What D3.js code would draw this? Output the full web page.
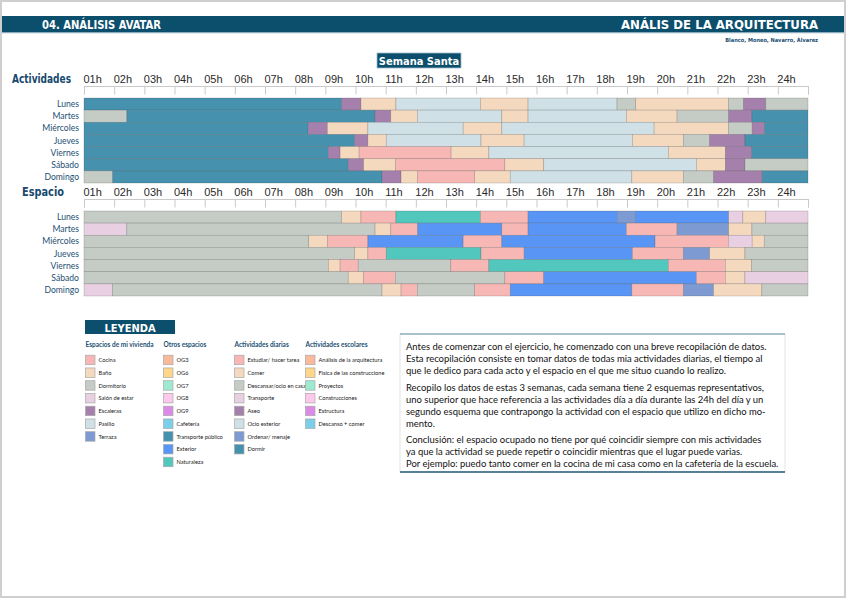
<!DOCTYPE html>
<html>
<head>
<meta charset="utf-8">
<script src="https://cdn.jsdelivr.net/npm/d3@7"></script>
<style>
    body { margin: 0; background: #fff; }
    svg { display: block; }
    .cond { font-family: "Liberation Sans Narrow", "DejaVu Sans Condensed", sans-serif; font-weight: bold; }
    .hour { font-family: "Liberation Sans", Arial, sans-serif; font-size: 11px; fill: #2a2a2a; }
    .day { font-family: Lato, "Open Sans", sans-serif; font-size: 8.6px; fill: #1d4f73; }
    .leg { font-family: Lato, "Open Sans", sans-serif; font-size: 5.7px; fill: #222; }
    .leg-head { font-family: Lato, "Open Sans", sans-serif; font-size: 6.5px; font-weight: bold; fill: #1d4f73; }
    .para { font-family: Lato, "Open Sans", sans-serif; fill: #111; }
</style>
</head>
<body>
<svg id="chart" width="848" height="599"></svg>
<script>
// data

const dias = ['Lunes', 'Martes', 'Miércoles', 'Jueves', 'Viernes', 'Sábado', 'Domingo'];
const horas = ['01h', '02h', '03h', '04h', '05h', '06h', '07h', '08h', '09h', '10h', '11h', '12h',
    '13h', '14h', '15h', '16h', '17h', '18h', '19h', '20h', '21h', '22h', '23h', '24h'];

// legend groups (names) and their colours
const espaciosVivienda = ['Cocina', 'Baño', 'Dormitorio', 'Salón de estar', 'Escaleras', 'Pasillo', 'Terraza'];
const otrosEspacios = ['OG3', 'OG6', 'OG7', 'OG8', 'OG9', 'Cafetería', 'Transporte público', 'Exterior', 'Naturaleza'];
const actividadesDiarias = ['Estudiar/ hacer tarea', 'Comer', 'Descansar/ocio en casa', 'Transporte', 'Aseo',
    'Ocio exterior', 'Ordenar/ menaje', 'Dormir'];
const actividadesEscolares = ['Análisis de la arquitectura', 'Física de las construccione', 'Proyectos',
    'Construcciones', 'Estructura', 'Descanso + comer'];

const coloresVivienda = ['#f7b7b5', '#f5d9bf', '#c5cbc5', '#e8d0e2', '#a580ad', '#cfe0e6', '#7d9bd2'];
const coloresOtros = ['#f9b99b', '#fdd68a', '#9eead0', '#fcc8ec', '#dc8ae8', '#7bcfe8', '#4591ae', '#5895f5', '#52c7bd'];
const coloresDiarias = ['#f7b7b5', '#f5d9bf', '#c5cbc5', '#e8d0e2', '#a580ad', '#cfe0e6', '#7d9bd2', '#4591ae'];
const coloresEscolares = ['#f9b99b', '#fdd68a', '#9eead0', '#fcc8ec', '#dc8ae8', '#7bcfe8'];

// each day: [category, hour at which the block ends]
const actividades = [
    [['Dormir', 8.54], ['Aseo', 9.18], ['Comer', 10.34], ['Ocio exterior', 13.14], ['Comer', 14.72],
        ['Ocio exterior', 17.67], ['Descansar/ocio en casa', 18.29], ['Comer', 21.36],
        ['Descansar/ocio en casa', 21.86], ['Aseo', 22.6], ['Descansar/ocio en casa', 24]],
    [['Descansar/ocio en casa', 1.42], ['Dormir', 9.65], ['Aseo', 10.17], ['Comer', 11.05], ['Ocio exterior', 13.85],
        ['Comer', 14.72], ['Ocio exterior', 17.98], ['Comer', 19.66], ['Descansar/ocio en casa', 21.37],
        ['Aseo', 22.14], ['Dormir', 24]],
    [['Dormir', 7.43], ['Aseo', 8.07], ['Comer', 9.41], ['Ocio exterior', 12.57], ['Comer', 13.85],
        ['Ocio exterior', 18.9], ['Comer', 21.37], ['Descansar/ocio en casa', 22.15], ['Aseo', 22.56], ['Dormir', 24]],
    [['Dormir', 8.97], ['Aseo', 9.41], ['Comer', 10.02], ['Ocio exterior', 13.16], ['Comer', 14.59],
        ['Ocio exterior', 18.18], ['Comer', 19.87], ['Descansar/ocio en casa', 20.74], ['Aseo', 21.91], ['Dormir', 24]],
    [['Dormir', 8.1], ['Aseo', 8.49], ['Comer', 9.12], ['Estudiar/ hacer tarea', 12.17], ['Comer', 13.42],
        ['Ocio exterior', 19.37], ['Comer', 21.26], ['Aseo', 22.13], ['Dormir', 24]],
    [['Dormir', 8.76], ['Aseo', 9.27], ['Comer', 10.32], ['Estudiar/ hacer tarea', 13.95], ['Comer', 15.24],
        ['Ocio exterior', 20.3], ['Comer', 21.26], ['Aseo', 21.91], ['Descansar/ocio en casa', 24]],
    [['Descansar/ocio en casa', 0.95], ['Dormir', 9.88], ['Aseo', 10.51], ['Comer', 11.05],
        ['Estudiar/ hacer tarea', 12.95], ['Comer', 14.13], ['Ocio exterior', 18.16], ['Comer', 19.87],
        ['Descansar/ocio en casa', 20.87], ['Aseo', 22.48], ['Dormir', 24]]
];

const espacios = [
    [['Dormitorio', 8.54], ['Baño', 9.18], ['Cocina', 10.34], ['Naturaleza', 13.14], ['Cocina', 14.72],
        ['Exterior', 17.68], ['Terraza', 18.28], ['Exterior', 21.37], ['Salón de estar', 21.84], ['Baño', 22.6],
        ['Salón de estar', 24]],
    [['Salón de estar', 1.42], ['Dormitorio', 9.65], ['Baño', 10.17], ['Cocina', 11.06], ['Exterior', 13.85],
        ['Cocina', 14.72], ['Exterior', 17.98], ['Cocina', 19.66], ['Terraza', 21.37], ['Baño', 22.14], ['Dormitorio', 24]],
    [['Dormitorio', 7.45], ['Baño', 8.07], ['Cocina', 9.41], ['Exterior', 12.57], ['Cocina', 13.85],
        ['Exterior', 18.93], ['Cocina', 21.36], ['Salón de estar', 22.15], ['Baño', 22.55], ['Dormitorio', 24]],
    [['Dormitorio', 8.97], ['Baño', 9.41], ['Cocina', 10.02], ['Naturaleza', 13.16], ['Cocina', 14.59],
        ['Exterior', 18.18], ['Cocina', 19.87], ['Terraza', 20.74], ['Baño', 21.91], ['Dormitorio', 24]],
    [['Dormitorio', 8.1], ['Baño', 8.49], ['Cocina', 9.09], ['Dormitorio', 12.16], ['Cocina', 13.42],
        ['Naturaleza', 19.37], ['Cocina', 21.26], ['Baño', 22.13], ['Dormitorio', 24]],
    [['Dormitorio', 8.76], ['Baño', 9.27], ['Cocina', 10.32], ['Dormitorio', 13.95], ['Cocina', 15.24],
        ['Exterior', 20.3], ['Cocina', 21.26], ['Baño', 21.91], ['Salón de estar', 24]],
    [['Salón de estar', 0.95], ['Dormitorio', 9.88], ['Baño', 10.51], ['Cocina', 11.05], ['Dormitorio', 12.95],
        ['Cocina', 14.13], ['Exterior', 18.16], ['Cocina', 19.87], ['Terraza', 20.87], ['Baño', 22.47], ['Dormitorio', 24]]
];

const parrafo = [
    'Antes de comenzar con el ejercicio, he comenzado con una breve recopilación de datos.',
    'Esta recopilación consiste en tomar datos de todas mia actividades diarias, el tiempo al',
    'que le dedico para cada acto y el espacio en el que me situo cuando lo realizo.',
    '',
    'Recopilo los datos de estas 3 semanas, cada semana tiene 2 esquemas representativos,',
    'uno superior que hace referencia a las actividades día a día durante las 24h del día y un',
    'segundo esquema que contrapongo la actividad con el espacio que utilizo en dicho mo-',
    'mento.',
    '',
    'Conclusión: el espacio ocupado no tiene por qué coincidir siempre con mis actividades',
    'ya que la actividad se puede repetir o coincidir mientras que el lugar puede varias.',
    'Por ejemplo: puedo tanto comer en la cocina de mi casa como en la cafetería de la escuela.'
];

// sizes

const width = 848;
const height = 599;
const darkBlue = '#0c4f6d';

const x = d3.scaleLinear().domain([0, 24]).range([84, 808]);

const color = d3.scaleOrdinal()
    .domain([...espaciosVivienda, ...otrosEspacios, ...actividadesDiarias, ...actividadesEscolares])
    .range([...coloresVivienda, ...coloresOtros, ...coloresDiarias, ...coloresEscolares]);

const svg = d3.select('#chart');

// page frame
svg.append('rect')
    .attr('x', 1).attr('y', 1)
    .attr('width', width - 4).attr('height', height - 3)
    .attr('fill', 'none')
    .attr('stroke', '#cfcfcf')
    .attr('stroke-width', 2);

// header band
svg.append('rect')
    .attr('x', 2).attr('y', 16)
    .attr('width', width - 6).attr('height', 16.5)
    .attr('fill', darkBlue);
svg.append('line')
    .attr('x1', 2).attr('x2', width - 4)
    .attr('y1', 32.8).attr('y2', 32.8)
    .attr('stroke', '#8fb3c4')
    .attr('stroke-width', 0.8);

svg.append('text')
    .attr('class', 'cond')
    .attr('x', 42).attr('y', 29)
    .attr('font-size', 13)
    .attr('textLength', 119)
    .attr('lengthAdjust', 'spacingAndGlyphs')
    .attr('fill', '#fff')
    .text('04. ANÁLISIS AVATAR');

svg.append('text')
    .attr('class', 'cond')
    .attr('x', 621).attr('y', 29)
    .attr('font-size', 13)
    .attr('textLength', 197)
    .attr('lengthAdjust', 'spacingAndGlyphs')
    .attr('fill', '#fff')
    .text('ANÁLIS DE LA ARQUITECTURA');

svg.append('text')
    .attr('class', 'cond')
    .attr('x', 818).attr('y', 42)
    .attr('font-size', 5.6)
    .attr('text-anchor', 'end')
    .attr('fill', '#1d4f73')
    .text('Blanco, Moneo, Navarro, Álvarez');

// "Semana Santa" tag
svg.append('rect')
    .attr('x', 377).attr('y', 53)
    .attr('width', 84).attr('height', 15)
    .attr('fill', darkBlue)
    .attr('stroke', '#9fbccb')
    .attr('stroke-width', 0.8);
svg.append('text')
    .attr('class', 'cond')
    .attr('x', 419).attr('y', 64.5)
    .attr('font-size', 11)
    .attr('text-anchor', 'middle')
    .attr('fill', '#fff')
    .text('Semana Santa');

// timeline blocks

function drawBlock(rows, top, title, titleX, titleW) {
    let g = svg.append('g');
    let y = d3.scaleBand().domain(dias).range([top, top + 85]);

    g.append('text')
        .attr('class', 'cond')
        .attr('x', titleX).attr('y', top - 15)
        .attr('font-size', 12)
        .attr('textLength', titleW)
        .attr('lengthAdjust', 'spacingAndGlyphs')
        .attr('fill', '#174a6e')
        .text(title);

    // hour labels
    g.append('g')
        .attr('transform', `translate(0, ${top - 15})`)
        .call(d3.axisTop(x)
            .tickValues(d3.range(24))
            .tickSize(0)
            .tickFormat(i => horas[i]))
        .call(g => g.select('.domain').remove())
        .call(g => g.selectAll('.tick text')
            .attr('class', 'hour')
            .attr('font-family', null)
            .attr('font-size', null)
            .attr('fill', null)
            .attr('y', 0)
            .attr('dy', 0)
            .attr('x', -1)
            .attr('text-anchor', 'start'));

    // tick strip
    g.append('g')
        .attr('transform', `translate(0, ${top - 12})`)
        .call(d3.axisBottom(x)
            .tickValues(d3.range(25))
            .tickSize(8.5)
            .tickFormat(''))
        .call(g => g.selectAll('line, path').attr('stroke', '#c9c9c9'));

    // day labels
    g.selectAll('.day')
        .data(dias)
        .enter()
        .append('text')
        .attr('class', 'day')
        .attr('x', 79)
        .attr('y', d => y(d) + y.bandwidth() / 2 + 3)
        .attr('text-anchor', 'end')
        .text(d => d);

    // segments
    let segs = [];
    rows.forEach((row, i) => {
        let start = 0;
        row.forEach(([cat, end]) => {
            segs.push({ day: dias[i], cat, start, end });
            start = end;
        });
    });

    g.selectAll('.seg')
        .data(segs)
        .enter()
        .append('rect')
        .attr('class', 'seg')
        .attr('x', d => x(d.start))
        .attr('y', d => y(d.day))
        .attr('width', d => x(d.end) - x(d.start))
        .attr('height', y.bandwidth())
        .attr('fill', d => color(d.cat))
        .attr('stroke', 'rgba(70,70,70,0.35)')
        .attr('stroke-width', 0.6);
}

drawBlock(actividades, 98, 'Actividades', 12, 59);
drawBlock(espacios, 211, 'Espacio', 22, 42);

// legend

svg.append('rect')
    .attr('x', 85).attr('y', 320)
    .attr('width', 90).attr('height', 14)
    .attr('fill', darkBlue);
svg.append('text')
    .attr('class', 'cond')
    .attr('x', 130).attr('y', 331.5)
    .attr('font-size', 11)
    .attr('text-anchor', 'middle')
    .attr('fill', '#fff')
    .text('LEYENDA');

const legendCols = [
    { head: 'Espacios de mi vivienda', items: espaciosVivienda, x: 85.5 },
    { head: 'Otros espacios', items: otrosEspacios, x: 163.5 },
    { head: 'Actividades diarias', items: actividadesDiarias, x: 234.5 },
    { head: 'Actividades escolares', items: actividadesEscolares, x: 305.5 }
];

legendCols.forEach(col => {
    let lg = svg.append('g').attr('transform', `translate(${col.x}, 0)`);
    lg.append('text')
        .attr('class', 'leg-head')
        .attr('x', 0).attr('y', 347)
        .text(col.head);
    col.items.forEach((name, i) => {
        let cy = 360 + i * 12.75;
        lg.append('rect')
            .attr('x', 0).attr('y', cy - 4.8)
            .attr('width', 9.5).attr('height', 9.5)
            .attr('fill', color(name))
            .attr('stroke', '#a8a8a8')
            .attr('stroke-width', 0.7);
        lg.append('text')
            .attr('class', 'leg')
            .attr('x', 13).attr('y', cy + 2)
            .text(name);
    });
});

// text box

svg.append('rect')
    .attr('x', 400).attr('y', 334)
    .attr('width', 385).attr('height', 138)
    .attr('fill', '#fff')
    .attr('stroke', '#dcdcdc')
    .attr('stroke-width', 0.8);
svg.append('line')
    .attr('x1', 400).attr('x2', 785)
    .attr('y1', 334).attr('y2', 334)
    .attr('stroke', '#8fb0c0')
    .attr('stroke-width', 1.4);
svg.append('line')
    .attr('x1', 400).attr('x2', 785)
    .attr('y1', 472).attr('y2', 472)
    .attr('stroke', '#56809a')
    .attr('stroke-width', 2);

const lineY = [346, 358, 370, null, 387, 399, 411, 423, null, 439, 451, 463];

let para = svg.append('g');
let paraText = para.selectAll('text')
    .data(parrafo.map((t, i) => ({ t, y: lineY[i] })).filter(d => d.t !== ''))
    .enter()
    .append('text')
    .attr('class', 'para')
    .attr('x', 406)
    .attr('y', d => d.y + 3.6)
    .attr('font-size', 10)
    .text(d => d.t);

// fit font size so the longest line matches the box text width
let longest = d3.max(paraText.nodes(), n => n.getComputedTextLength());
let fs = 10 * 373 / longest;
paraText.attr('font-size', fs);
</script>
</body>
</html>
